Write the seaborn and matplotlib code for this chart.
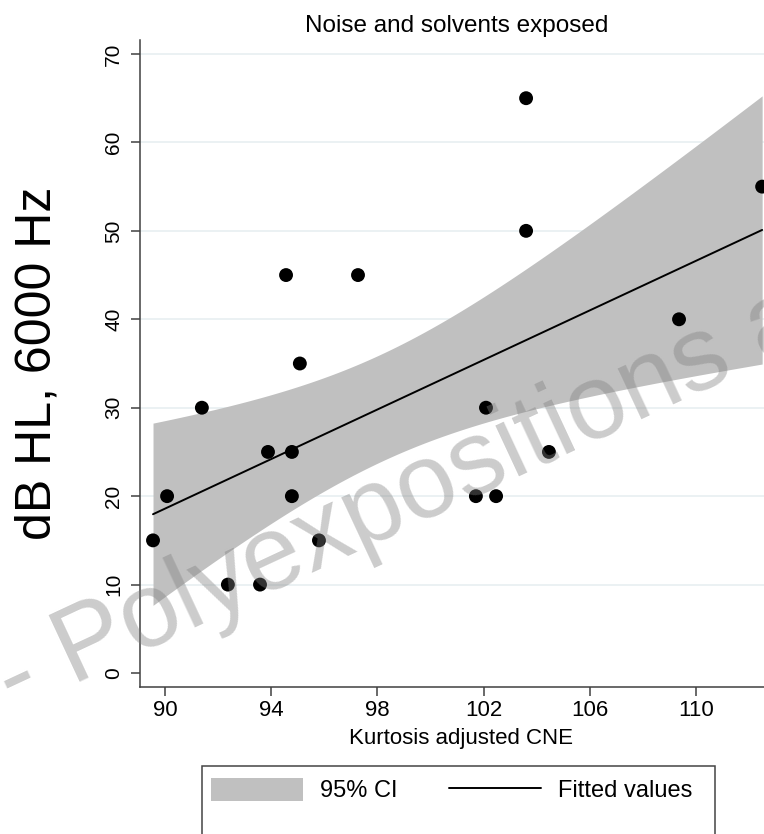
import numpy as np
import pandas as pd
import matplotlib
matplotlib.use('Agg')
import matplotlib.pyplot as plt
import seaborn as sns
from matplotlib.patches import Patch, Rectangle
from matplotlib.lines import Line2D

# data
kurtosis_cne = [89.55, 90.08, 91.39, 92.37, 93.58, 93.88, 94.56, 94.78, 94.78, 95.08,
                95.80, 97.27, 101.71, 102.09, 102.47, 103.60, 103.60, 104.46, 109.36, 112.49]
db_hl = [15, 20, 30, 10, 10, 25, 45, 25, 20, 35,
         15, 45, 20, 30, 20, 65, 50, 25, 40, 55]
x_ticks = [90, 94, 98, 102, 106, 110]
y_ticks = [0, 10, 20, 30, 40, 50, 60, 70]

df = pd.DataFrame({'cne': kurtosis_cne, 'dbhl': db_hl})

# linear fit with 95% CI of the mean (like Stata lfitci)
x = df['cne'].to_numpy()
y = df['dbhl'].to_numpy()
n = len(x)
b1, b0 = np.polyfit(x, y, 1)
resid = y - (b0 + b1 * x)
s = np.sqrt((resid ** 2).sum() / (n - 2))
sxx = ((x - x.mean()) ** 2).sum()
t_crit = 2.1009  # t(0.975, df=18)
xs = np.linspace(x.min(), x.max(), 200)
fit = b0 + b1 * xs
half = t_crit * s * np.sqrt(1 / n + (xs - x.mean()) ** 2 / sxx)

sns.set_style('white')
plt.rcParams['font.family'] = ['Liberation Sans', 'DejaVu Sans']
plt.rcParams['text.color'] = 'black'
plt.rcParams['axes.labelcolor'] = 'black'
plt.rcParams['xtick.color'] = 'black'
plt.rcParams['ytick.color'] = 'black'

fig = plt.figure(figsize=(7.64, 8.34), dpi=100)
ax = fig.add_axes([140 / 764, 147 / 834, 624 / 764, 647 / 834])

ax.fill_between(xs, fit - half, fit + half, color='#c0c0c0', lw=0, zorder=1)
sns.lineplot(x=xs, y=fit, color='black', lw=1.4, ax=ax, zorder=2)
sns.scatterplot(data=df, x='cne', y='dbhl', color='black', s=100,
                edgecolor='none', ax=ax, zorder=3)

ax.set_xlim(89.06, 112.56)
ax.set_ylim(-1.58, 71.58)
ax.set_xticks(x_ticks)
ax.set_yticks(y_ticks)

# grid only on the upper lines, like Stata
ax.yaxis.grid(True, color='#e6eef0', lw=1.1)
ax.set_axisbelow(True)
ax.yaxis.get_gridlines()[0].set_visible(False)

sns.despine(ax=ax)
for sp in ['left', 'bottom']:
    ax.spines[sp].set_color('#404040')
    ax.spines[sp].set_linewidth(1.1)

ax.tick_params(axis='both', direction='out', length=6.5, width=1.1,
               color='#404040', left=True, bottom=True)
ax.tick_params(axis='x', labelsize=16, pad=3)
ax.tick_params(axis='y', labelsize=15, pad=5.5, labelrotation=90)
for lbl in ax.get_yticklabels():
    lbl.set_va('center')

ax.set_title('Noise and solvents exposed', fontsize=17.5, x=0.508, pad=5.8)
ax.set_xlabel('Kurtosis adjusted CNE', fontsize=16)
ax.xaxis.set_label_coords(0.5144, -0.0634)
ax.set_ylabel('dB HL, 6000 Hz', fontsize=36)
ax.yaxis.set_label_coords(-0.127, 0.5)

# legend with a box running off the bottom
handles = [Patch(facecolor='#c0c0c0', edgecolor='none'),
           Line2D([], [], color='black', lw=1.4)]
fig.legend(handles, ['95% CI', 'Fitted values'], ncol=2, loc='upper left',
           bbox_to_anchor=(211 / 764, 1 - 778 / 834), frameon=False,
           fontsize=17, handlelength=3.9, handleheight=1.1, handletextpad=0.7,
           columnspacing=2.2, borderpad=0, borderaxespad=0)
fig.add_artist(Rectangle((202 / 764, -0.05), 513 / 764, 68 / 834 + 0.05,
                         transform=fig.transFigure, fill=False,
                         edgecolor='#444444', lw=1.1))

# watermark
fig.text(14 / 764, 1 - 712 / 834, '- Polyexpositions a', rotation=25,
         rotation_mode='anchor', ha='left', va='baseline', fontsize=76,
         color='#808080', alpha=0.4)

fig.savefig('out.png', dpi=100)
